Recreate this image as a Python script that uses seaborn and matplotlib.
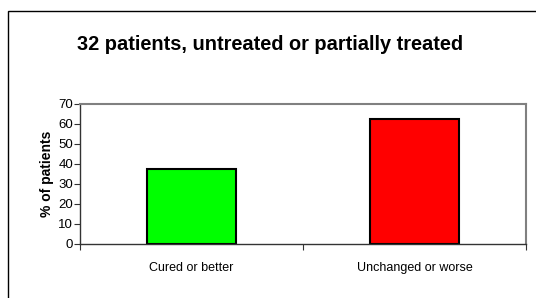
import numpy as np
import pandas as pd
import seaborn as sns
from matplotlib import pyplot as plt
from matplotlib.patches import Rectangle

categories = ["Cured or better", "Unchanged or worse"]
percent = [37.5, 62.5]
bar_colors = ["#00ff00", "#ff0000"]
yticks = [0, 10, 20, 30, 40, 50, 60, 70]

df = pd.DataFrame({"outcome": categories, "pct": percent})

sns.set_style("white")
plt.rcParams["font.family"] = ["Liberation Sans", "DejaVu Sans"]
plt.rcParams["text.color"] = "black"
plt.rcParams["xtick.color"] = "black"
plt.rcParams["ytick.color"] = "black"
plt.rcParams["axes.labelcolor"] = "black"

fig = plt.figure(figsize=(5.36, 2.98), dpi=100)
ax = fig.add_axes([80 / 536, 1 - 244 / 298, 446 / 536, 140 / 298])

sns.barplot(
    data=df, x="outcome", y="pct", hue="outcome", palette=bar_colors,
    width=0.4, edgecolor="black", linewidth=1.5, legend=False, ax=ax,
    saturation=1,
)

ax.set_ylim(0, 70)
ax.set_xlim(-0.5, 1.5)
ax.set_yticks(yticks)
ax.set_yticklabels([str(t) for t in yticks], fontsize=9.5)
ax.set_xticks(range(len(categories)))
ax.set_xticklabels(categories, fontsize=9)
ax.set_xticks([-0.5, 0.5, 1.5], minor=True)
ax.tick_params(axis="x", which="major", length=0, pad=13)
ax.tick_params(axis="x", which="minor", length=4, width=0.8, color="#333333", direction="out", bottom=True)
ax.tick_params(axis="y", length=4, width=0.8, color="#333333", direction="out", left=True, pad=1)
ax.set_xlabel("")
ax.set_ylabel("% of patients", fontsize=10, fontweight="bold", labelpad=3)

for side in ["top", "right"]:
    ax.spines[side].set_visible(True)
    ax.spines[side].set_color("#808080")
    ax.spines[side].set_linewidth(1.5)
for side in ["left", "bottom"]:
    ax.spines[side].set_color("#333333")
    ax.spines[side].set_linewidth(1.0)

fig.text(0.503, 1 - 44 / 298, "32 patients, untreated or partially treated",
         ha="center", va="center", fontsize=14.4, fontweight="bold")

# outer chart frame
fig.patches.append(Rectangle((8 / 536, -0.1), 1.2, 1.1 - 11 / 298, transform=fig.transFigure,
                             fill=False, edgecolor="black", linewidth=1.0))

fig.savefig("out.png", dpi=100)
